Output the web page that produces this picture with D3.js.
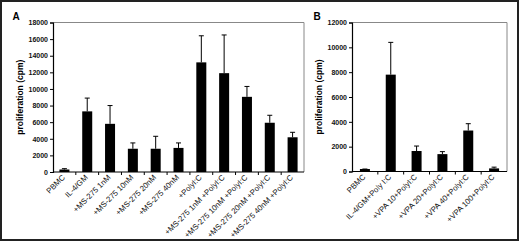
<!DOCTYPE html>
<html>
<head>
<meta charset="utf-8">
<script src="https://cdn.jsdelivr.net/npm/d3@7"></script>
<style>
  body { margin: 0; background: #fff; }
  svg { display: block; font-family: "Liberation Sans", Arial, sans-serif; }
</style>
</head>
<body>
<svg id="chart" width="520" height="242"></svg>
<script>
(function(){

  // panel A
  var catsA = ["PBMC", "IL-4/GM", "+MS-275 1nM", "+MS-275 10nM", "+MS-275 20nM", "+MS-275 40nM",
               "+PolyI:C", "+MS-275 1nM +PolyI:C", "+MS-275 10nM +PolyI:C", "+MS-275 20nM +PolyI:C", "+MS-275 40nM +PolyI:C"]
  var valsA = [300, 7300, 5800, 2800, 2800, 2900, 13200, 11900, 9050, 5930, 4180]
  var errA  = [400, 8900, 8000, 3500, 4300, 3500, 16400, 16500, 10300, 6830, 4780] // top of whisker
  var ticksA = [0, 2000, 4000, 6000, 8000, 10000, 12000, 14000, 16000, 18000]

  // panel B
  var catsB = ["PBMC", "IL-4/GM+Poly I:C", "+VPA 10+PolyI:C", "+VPA 20+PolyI:C", "+VPA 40+PolyI:C", "+VPA 100+PolyI:C"]
  var valsB = [200, 7800, 1650, 1400, 3300, 250]
  var errB  = [200, 10400, 2050, 1600, 3850, 350]
  var ticksB = [0, 2000, 4000, 6000, 8000, 10000, 12000]

  var svg = d3.select('#chart')

  // outer frame
  svg.append('rect')
    .attr('x', 1).attr('y', 1).attr('width', 517).attr('height', 239)
    .attr('fill', 'none').attr('stroke', '#222').attr('stroke-width', 2)

  function panel(cats, vals, errs, ticks, box, letter) {
    var g = svg.append('g')

    var x = d3.scaleBand().domain(cats).range([box.left, box.right])
    var y = d3.scaleLinear().domain([0, ticks[ticks.length-1]]).range([box.bottom, box.top])
    var bw = 10

    // top + right of plot box
    g.append('path')
      .attr('d', 'M' + box.left + ',' + box.top + 'H' + box.right + 'V' + box.bottom)
      .attr('fill', 'none').attr('stroke', '#888').attr('stroke-width', 1)

    // error whiskers
    g.selectAll('line.err').data(cats).enter().append('line')
      .attr('x1', d => x(d) + x.bandwidth()/2).attr('x2', d => x(d) + x.bandwidth()/2)
      .attr('y1', (d, i) => y(vals[i])).attr('y2', (d, i) => y(errs[i]))
      .attr('stroke', '#000').attr('stroke-width', 1)
    g.selectAll('line.cap').data(cats).enter().append('line')
      .attr('x1', d => x(d) + x.bandwidth()/2 - 2.5).attr('x2', d => x(d) + x.bandwidth()/2 + 2.5)
      .attr('y1', (d, i) => y(errs[i])).attr('y2', (d, i) => y(errs[i]))
      .attr('stroke', '#000').attr('stroke-width', 1)

    // bars
    g.selectAll('rect.bar').data(cats).enter().append('rect')
      .attr('x', d => x(d) + x.bandwidth()/2 - bw/2)
      .attr('width', bw)
      .attr('y', (d, i) => y(vals[i]))
      .attr('height', (d, i) => box.bottom - y(vals[i]))
      .attr('fill', '#000')

    // y axis
    var ya = g.append('g')
      .attr('transform', 'translate(' + box.left + ',0)')
      .call(d3.axisLeft(y).tickValues(ticks).tickFormat(d3.format('d')).tickSize(3).tickPadding(2))
    ya.select('.domain').attr('stroke', '#000').attr('stroke-width', 1.2)
    ya.selectAll('text').attr('font-size', 7).attr('font-weight', 'bold').attr('fill', '#111')

    // x axis: line with ticks between categories
    g.append('line')
      .attr('x1', box.left).attr('x2', box.right)
      .attr('y1', box.bottom).attr('y2', box.bottom)
      .attr('stroke', '#000').attr('stroke-width', 1.2)
    g.selectAll('line.xt').data(cats.slice(1)).enter().append('line')
      .attr('x1', d => x(d)).attr('x2', d => x(d))
      .attr('y1', box.bottom).attr('y2', box.bottom + 3)
      .attr('stroke', '#000')

    g.selectAll('text.xl').data(cats).enter().append('text')
      .attr('transform', d => 'translate(' + (x(d) + x.bandwidth()/2 + 1) + ',' + (box.bottom + 6) + ') rotate(-45)')
      .attr('text-anchor', 'end')
      .attr('font-size', 7.8)
      .attr('fill', '#111')
      .text(d => d)

    // axis title
    g.append('text')
      .attr('transform', 'translate(' + box.titleX + ',' + ((box.top + box.bottom)/2) + ') rotate(-90)')
      .attr('text-anchor', 'middle')
      .attr('font-size', 8.5)
      .attr('font-weight', 'bold')
      .text('proliferation (cpm)')

    // panel letter
    g.append('text')
      .attr('x', box.letterX).attr('y', 19.5)
      .attr('font-size', 10).attr('font-weight', 'bold')
      .text(letter)
  }

  panel(catsA, valsA, errA, ticksA, {left: 53, right: 304, top: 22.5, bottom: 172, titleX: 23, letterX: 12.5}, 'A')
  panel(catsB, valsB, errB, ticksB, {left: 352, right: 507, top: 22.5, bottom: 171.5, titleX: 322, letterX: 313.5}, 'B')
})()
</script>
</body>
</html>
